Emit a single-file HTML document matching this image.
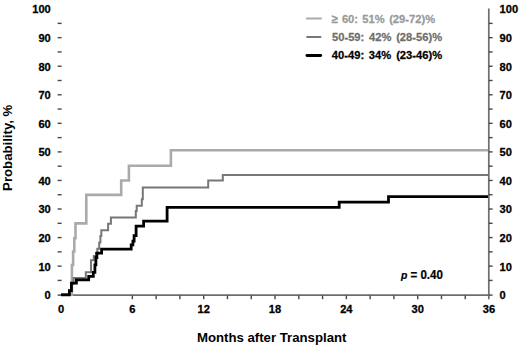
<!DOCTYPE html>
<html><head><meta charset="utf-8">
<style>
html,body{margin:0;padding:0;background:#fff;}
body{width:520px;height:346px;overflow:hidden;}
svg{display:block;}
text{font-family:"Liberation Sans",sans-serif;font-weight:bold;}
</style></head>
<body>
<svg width="520" height="346" viewBox="0 0 520 346">
<rect width="520" height="346" fill="#fff"/>
<g stroke="#6e6e6e" stroke-width="1.7" fill="none"><line x1="61" y1="295.1" x2="489" y2="295.1"/><line x1="488.8" y1="8.6" x2="488.8" y2="299.2"/></g>
<g stroke="#474747" stroke-width="1.4" fill="none"><line x1="57.6" y1="295.10" x2="61.6" y2="295.10"/><line x1="488.8" y1="295.10" x2="492.6" y2="295.10"/><line x1="57.6" y1="280.42" x2="61.6" y2="280.42"/><line x1="488.8" y1="280.42" x2="492.6" y2="280.42"/><line x1="57.6" y1="266.14" x2="61.6" y2="266.14"/><line x1="488.8" y1="266.14" x2="492.6" y2="266.14"/><line x1="57.6" y1="251.86" x2="61.6" y2="251.86"/><line x1="488.8" y1="251.86" x2="492.6" y2="251.86"/><line x1="57.6" y1="237.58" x2="61.6" y2="237.58"/><line x1="488.8" y1="237.58" x2="492.6" y2="237.58"/><line x1="57.6" y1="223.30" x2="61.6" y2="223.30"/><line x1="488.8" y1="223.30" x2="492.6" y2="223.30"/><line x1="57.6" y1="209.02" x2="61.6" y2="209.02"/><line x1="488.8" y1="209.02" x2="492.6" y2="209.02"/><line x1="57.6" y1="194.74" x2="61.6" y2="194.74"/><line x1="488.8" y1="194.74" x2="492.6" y2="194.74"/><line x1="57.6" y1="180.46" x2="61.6" y2="180.46"/><line x1="488.8" y1="180.46" x2="492.6" y2="180.46"/><line x1="57.6" y1="166.18" x2="61.6" y2="166.18"/><line x1="488.8" y1="166.18" x2="492.6" y2="166.18"/><line x1="57.6" y1="151.90" x2="61.6" y2="151.90"/><line x1="488.8" y1="151.90" x2="492.6" y2="151.90"/><line x1="57.6" y1="137.62" x2="61.6" y2="137.62"/><line x1="488.8" y1="137.62" x2="492.6" y2="137.62"/><line x1="57.6" y1="123.34" x2="61.6" y2="123.34"/><line x1="488.8" y1="123.34" x2="492.6" y2="123.34"/><line x1="57.6" y1="109.06" x2="61.6" y2="109.06"/><line x1="488.8" y1="109.06" x2="492.6" y2="109.06"/><line x1="57.6" y1="94.78" x2="61.6" y2="94.78"/><line x1="488.8" y1="94.78" x2="492.6" y2="94.78"/><line x1="57.6" y1="80.50" x2="61.6" y2="80.50"/><line x1="488.8" y1="80.50" x2="492.6" y2="80.50"/><line x1="57.6" y1="66.22" x2="61.6" y2="66.22"/><line x1="488.8" y1="66.22" x2="492.6" y2="66.22"/><line x1="57.6" y1="51.94" x2="61.6" y2="51.94"/><line x1="488.8" y1="51.94" x2="492.6" y2="51.94"/><line x1="57.6" y1="37.66" x2="61.6" y2="37.66"/><line x1="488.8" y1="37.66" x2="492.6" y2="37.66"/><line x1="57.6" y1="23.38" x2="61.6" y2="23.38"/><line x1="488.8" y1="23.38" x2="492.6" y2="23.38"/><line x1="132.34" y1="295.5" x2="132.34" y2="299.2"/><line x1="156.12" y1="295.5" x2="156.12" y2="299.2"/><line x1="179.90" y1="295.5" x2="179.90" y2="299.2"/><line x1="203.68" y1="295.5" x2="203.68" y2="299.2"/><line x1="227.46" y1="295.5" x2="227.46" y2="299.2"/><line x1="251.24" y1="295.5" x2="251.24" y2="299.2"/><line x1="275.02" y1="295.5" x2="275.02" y2="299.2"/><line x1="298.80" y1="295.5" x2="298.80" y2="299.2"/><line x1="322.58" y1="295.5" x2="322.58" y2="299.2"/><line x1="346.36" y1="295.5" x2="346.36" y2="299.2"/><line x1="370.14" y1="295.5" x2="370.14" y2="299.2"/><line x1="393.92" y1="295.5" x2="393.92" y2="299.2"/><line x1="417.70" y1="295.5" x2="417.70" y2="299.2"/><line x1="441.48" y1="295.5" x2="441.48" y2="299.2"/><line x1="465.26" y1="295.5" x2="465.26" y2="299.2"/></g>
<path fill="none" stroke="#aaaaaa" stroke-width="2.6" d="M61 294.6 H71.9 V265 H73.1 V251.5 H74.3 V238.2 H75.5 V223.4 H86.3 V194.9 H121.2 V180.5 H128.9 V165.8 H170.9 V150.3 H488"/>
<path fill="none" stroke="#777777" stroke-width="2.0" d="M61 294.6 H69.3 V290.6 H71.6 V283.7 H73.6 V277.9 H85.8 V272.3 H91 V260.2 H93.8 V256 H96 V253 H97.3 V248.8 H99.2 V242.6 H100.4 V236 H101.3 V230.3 H108.1 V223.7 H110.9 V217.6 H135.8 V211 H136.7 V205.7 H141.8 V199.3 H142.8 V187.5 H208.2 V180.5 H222.8 V175.1 H488"/>
<path fill="none" stroke="#000" stroke-width="2.8" d="M61 294.8 H69.4 V290.6 H71.4 V283.2 H76.4 V279.9 H88.7 V276.3 H93.3 V272.3 H94.9 V264.8 H95.9 V257.5 H96.9 V253.1 H101.6 V249.1 H131.2 V244.9 H132.9 V241.1 H134.1 V235.7 H136.1 V226.2 H143.6 V221.1 H167.1 V207.3 H339.2 V202.1 H388.5 V196.6 H488"/>
<line x1="306.9" y1="18.5" x2="320.9" y2="18.5" stroke="#aaaaaa" stroke-width="2.2" stroke-linecap="round"/>
<line x1="307.1" y1="37.1" x2="320.5" y2="37.1" stroke="#777777" stroke-width="2" stroke-linecap="round"/>
<line x1="306.9" y1="55.5" x2="320.7" y2="55.5" stroke="#000" stroke-width="2.8" stroke-linecap="round"/>
<text transform="translate(331.73,22.5) scale(0.95,1)" font-size="11.8" fill="#999" stroke="#999" stroke-width="0.25"><tspan x="0.00">≥</tspan><tspan x="10.69">60:</tspan><tspan x="32.13">51%</tspan><tspan x="60.43">(29-72)%</tspan></text>
<text transform="translate(331.95,40.8) scale(0.95,1)" font-size="11.8" fill="#6e6e6e" stroke="#6e6e6e" stroke-width="0.25"><tspan x="0.00">50-59:</tspan><tspan x="38.93">42%</tspan><tspan x="67.57">(28-56)%</tspan></text>
<text transform="translate(331.83,59.4) scale(0.95,1)" font-size="11.8" fill="#000" stroke="#000" stroke-width="0.25"><tspan x="0.00">40-49:</tspan><tspan x="38.96">34%</tspan><tspan x="67.69">(23-46)%</tspan></text>
<text transform="translate(400.4,279.1) scale(0.965,1)" font-size="12" fill="#000" stroke="#000" stroke-width="0.2"><tspan font-style="italic" font-size="10.8" dx="0.5">p</tspan><tspan x="10.4">= 0.40</tspan></text>
<g font-size="11.7" fill="#000" stroke="#000" stroke-width="0.3"><text transform="translate(50.8,299.08) scale(0.95,1)" text-anchor="end">0</text><text transform="translate(499.6,299.08) scale(0.95,1)">0</text><text transform="translate(50.8,270.52) scale(0.95,1)" text-anchor="end">10</text><text transform="translate(499.6,270.52) scale(0.95,1)">10</text><text transform="translate(50.8,241.96) scale(0.95,1)" text-anchor="end">20</text><text transform="translate(499.6,241.96) scale(0.95,1)">20</text><text transform="translate(50.8,213.40) scale(0.95,1)" text-anchor="end">30</text><text transform="translate(499.6,213.40) scale(0.95,1)">30</text><text transform="translate(50.8,184.84) scale(0.95,1)" text-anchor="end">40</text><text transform="translate(499.6,184.84) scale(0.95,1)">40</text><text transform="translate(50.8,156.28) scale(0.95,1)" text-anchor="end">50</text><text transform="translate(499.6,156.28) scale(0.95,1)">50</text><text transform="translate(50.8,127.72) scale(0.95,1)" text-anchor="end">60</text><text transform="translate(499.6,127.72) scale(0.95,1)">60</text><text transform="translate(50.8,99.16) scale(0.95,1)" text-anchor="end">70</text><text transform="translate(499.6,99.16) scale(0.95,1)">70</text><text transform="translate(50.8,70.60) scale(0.95,1)" text-anchor="end">80</text><text transform="translate(499.6,70.60) scale(0.95,1)">80</text><text transform="translate(50.8,42.04) scale(0.95,1)" text-anchor="end">90</text><text transform="translate(499.6,42.04) scale(0.95,1)">90</text><text transform="translate(50.8,13.48) scale(0.95,1)" text-anchor="end">100</text><text transform="translate(499.6,13.48) scale(0.95,1)">100</text><text transform="translate(61.00,313.2) scale(0.95,1)" text-anchor="middle">0</text><text transform="translate(132.34,313.2) scale(0.95,1)" text-anchor="middle">6</text><text transform="translate(203.68,313.2) scale(0.95,1)" text-anchor="middle">12</text><text transform="translate(275.02,313.2) scale(0.95,1)" text-anchor="middle">18</text><text transform="translate(346.36,313.2) scale(0.95,1)" text-anchor="middle">24</text><text transform="translate(417.70,313.2) scale(0.95,1)" text-anchor="middle">30</text><text transform="translate(489.04,313.2) scale(0.95,1)" text-anchor="middle">36</text></g>
<text x="271.7" y="341.6" font-size="13.2" text-anchor="middle" fill="#000">Months after Transplant</text>
<text transform="translate(12.4,147.8) rotate(-90)" font-size="13.2" text-anchor="middle" fill="#000">Probability, %</text>
</svg>
</body></html>
